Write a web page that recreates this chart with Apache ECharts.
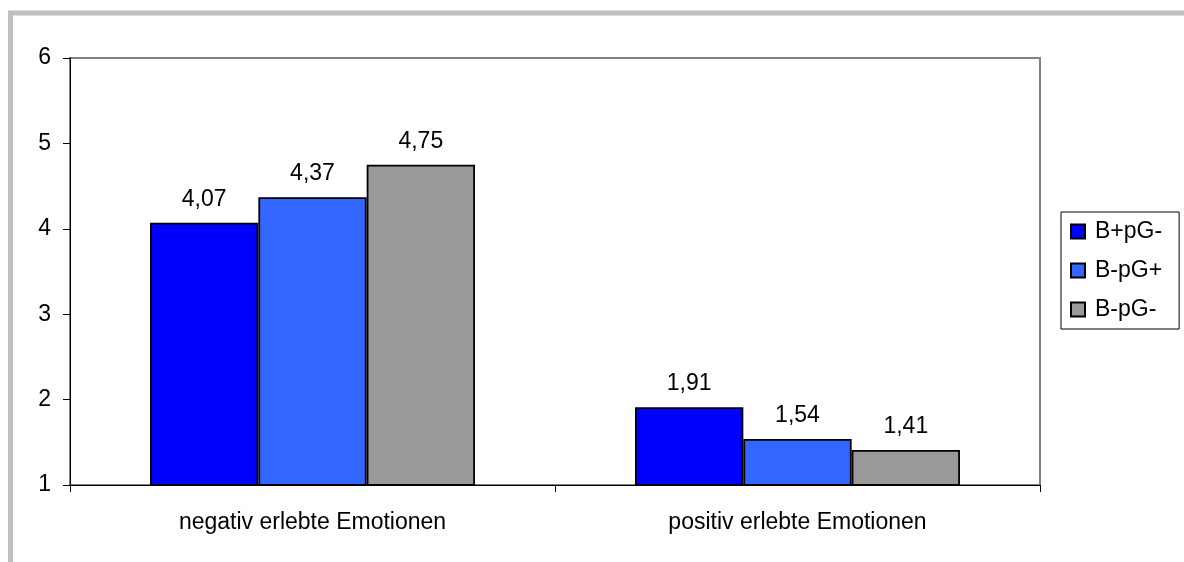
<!DOCTYPE html>
<html><head><meta charset="utf-8">
<script src="https://cdn.jsdelivr.net/npm/echarts@6/dist/echarts.min.js"></script>
<style>html,body{margin:0;padding:0;background:#fff}#c{width:1184px;height:562px}</style>
</head><body><div id="c"></div>
<script>
const categories = ['negativ erlebte Emotionen', 'positiv erlebte Emotionen'];
const seriesNames = ['B+pG-', 'B-pG+', 'B-pG-'];
const valsBpGm = [4.07, 1.91];
const valsBmpGp = [4.37, 1.54];
const valsBmpGm = [4.75, 1.41];
const yTicks = [1, 2, 3, 4, 5, 6];
const colors = ['#0000FF', '#3366FF', '#999999'];
const font = 'Liberation Sans, Arial, sans-serif';
const fs = 23;
const data = [valsBpGm, valsBmpGp, valsBmpGm];
const chart = echarts.init(document.getElementById('c'));
chart.setOption({
  animation: false,
  backgroundColor: '#fff',
  textStyle: { fontFamily: font },
  graphic: [{
    type: 'rect', shape: { x: 10.5, y: 13, width: 1200, height: 600 },
    style: { fill: 'none', stroke: '#c0c0c0', lineWidth: 5 }, silent: true, z: -10
  }],
  grid: { left: 70, right: 144, top: 58, bottom: 77, show: true, borderColor: '#808080', borderWidth: 2, backgroundColor: '#fff' },
  legend: {
    orient: 'vertical', left: 1061, top: 212,
    data: seriesNames,
    borderColor: '#000', borderWidth: 1, padding: [8, 17, 8, 9],
    itemWidth: 14, itemHeight: 14, itemGap: 16, icon: 'rect',
    textStyle: { fontFamily: font, fontSize: fs, color: '#000', padding: [0, 0, 0, 5] }
  },
  xAxis: {
    type: 'category', data: categories,
    axisLine: { lineStyle: { color: '#000', width: 1 } },
    axisTick: { show: true, length: 7, lineStyle: { color: '#000' } },
    axisLabel: { color: '#000', fontFamily: font, fontSize: fs, margin: 26 }
  },
  yAxis: {
    type: 'value', min: yTicks[0], max: yTicks[yTicks.length - 1], interval: 1,
    axisLine: { show: true, lineStyle: { color: '#000', width: 1 } },
    axisTick: { show: true, length: 7, lineStyle: { color: '#000' } },
    splitLine: { show: false },
    axisLabel: { color: '#000', fontFamily: font, fontSize: fs, margin: 19 }
  },
  series: seriesNames.map((n, i) => ({
    name: n, type: 'bar', data: data[i],
    barGap: '0%', barCategoryGap: '33%',
    itemStyle: { color: colors[i], borderColor: '#000', borderWidth: 1.8 },
    label: { show: true, position: 'top', distance: 12, color: '#000', fontFamily: font, fontSize: fs,
      formatter: p => p.value.toFixed(2).replace('.', ',') }
  }))
});
</script></body></html>
